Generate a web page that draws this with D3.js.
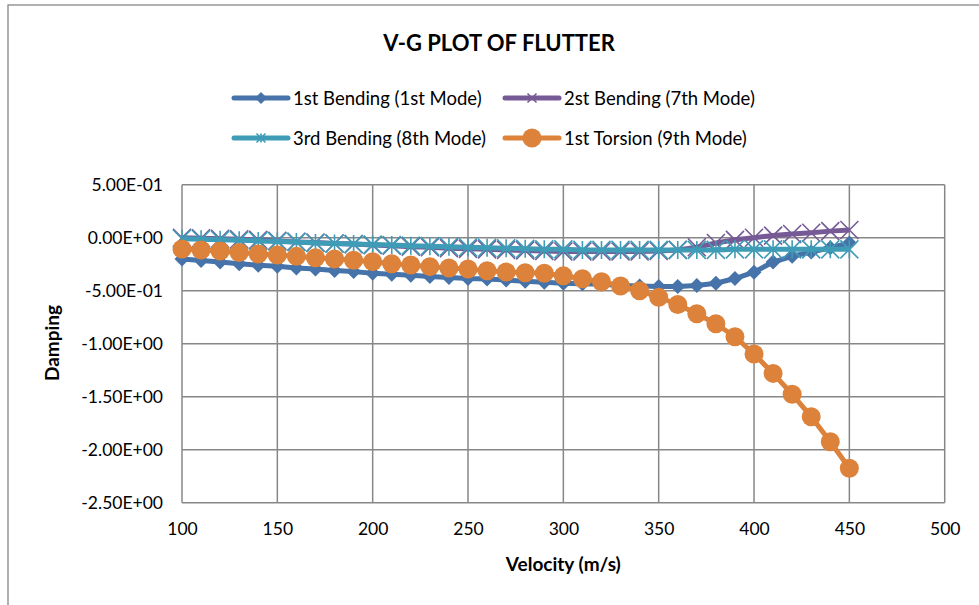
<!DOCTYPE html>
<html>
<head>
<meta charset="utf-8">
<script src="https://cdn.jsdelivr.net/npm/d3@7/dist/d3.min.js"></script>
<style>
  body { margin: 0; background: #fff; }
  svg { display: block; font-family: Lato, "Open Sans", sans-serif; }
</style>
</head>
<body>
<svg id="chart" width="979" height="605"></svg>
<script>
// Velocity stations (m/s)
const velocity = [100,110,120,130,140,150,160,170,180,190,200,210,220,230,240,250,260,270,
  280,290,300,310,320,330,340,350,360,370,380,390,400,410,420,430,440,450];

// Damping per mode
const bending1 = [-0.20,-0.215,-0.23,-0.245,-0.26,-0.27,-0.285,-0.295,-0.31,-0.32,-0.335,-0.345,
  -0.355,-0.365,-0.375,-0.385,-0.39,-0.40,-0.41,-0.42,-0.43,-0.435,-0.44,-0.45,-0.455,-0.46,
  -0.46,-0.45,-0.43,-0.385,-0.325,-0.23,-0.175,-0.135,-0.095,-0.05];
const bending2 = [0.0,-0.005,-0.01,-0.015,-0.02,-0.03,-0.04,-0.045,-0.055,-0.06,-0.07,-0.075,
  -0.085,-0.09,-0.10,-0.105,-0.11,-0.115,-0.12,-0.125,-0.13,-0.13,-0.13,-0.13,-0.13,-0.125,
  -0.115,-0.09,-0.05,-0.02,0.0,0.02,0.035,0.047,0.062,0.073];
const bending3 = [-0.01,-0.015,-0.02,-0.025,-0.03,-0.035,-0.04,-0.05,-0.055,-0.06,-0.065,-0.07,
  -0.075,-0.08,-0.085,-0.09,-0.095,-0.10,-0.105,-0.11,-0.11,-0.115,-0.115,-0.115,-0.115,-0.115,
  -0.115,-0.115,-0.115,-0.11,-0.11,-0.11,-0.11,-0.11,-0.11,-0.11];
const torsion1 = [-0.106,-0.116,-0.125,-0.14,-0.154,-0.163,-0.176,-0.189,-0.20,-0.213,-0.226,-0.245,
  -0.258,-0.273,-0.286,-0.295,-0.311,-0.324,-0.33,-0.336,-0.36,-0.387,-0.415,-0.456,-0.50,-0.562,
  -0.63,-0.717,-0.812,-0.934,-1.097,-1.28,-1.477,-1.689,-1.925,-2.175];

const seriesNames = ["1st Bending (1st Mode)","2st Bending (7th Mode)","3rd Bending (8th Mode)","1st Torsion (9th Mode)"];
const seriesColors = ["#4673A9","#765A96","#3F9CB6","#DC823B"];
const seriesMarkers = ["diamond","cross","asterisk","circle"];
const seriesValues = [bending1, bending2, bending3, torsion1];

const xTicks = [100,150,200,250,300,350,400,450,500];
const yTicks = [0.5,0,-0.5,-1,-1.5,-2,-2.5];

const svg = d3.select("#chart");
const gridColor = "#878787";

// outer chart frame
svg.append("rect").attr("x",8).attr("y",5).attr("width",1100).attr("height",800)
  .attr("fill","none").attr("stroke",gridColor).attr("stroke-width",1.3);

const x = d3.scaleLinear().domain([100,500]).range([182,944.7]);
const y = d3.scaleLinear().domain([-2.5,0.5]).range([502.7,184.7]);

// scientific labels, e.g. 5.00E-01
const sci = v => {
  const s = d3.format(".2e")(v).replace("\u2212", "-");
  const [m, e] = s.split("e");
  const sign = e[0] === "-" || e[0] === "\u2212" ? "-" : "+";
  const digits = e.replace(/[+\-\u2212]/, "").padStart(2, "0");
  return m + "E" + sign + digits;
};

// gridlines
svg.append("g").selectAll("line").data(xTicks).join("line")
  .attr("x1", d => x(d)).attr("x2", d => x(d))
  .attr("y1", y(0.5)).attr("y2", y(-2.5))
  .attr("stroke", gridColor).attr("stroke-width", 1.5);
svg.append("g").selectAll("line").data(yTicks).join("line")
  .attr("x1", x(100)).attr("x2", x(500))
  .attr("y1", d => y(d)).attr("y2", d => y(d))
  .attr("stroke", gridColor).attr("stroke-width", 1.5);

// axis tick labels via d3 axes (text only)
const xAxis = svg.append("g").attr("transform", `translate(0,${y(-2.5)})`)
  .call(d3.axisBottom(x).tickValues(xTicks).tickSize(0).tickPadding(20).tickFormat(d3.format("d")));
const yAxis = svg.append("g").attr("transform", `translate(${x(100)},0)`)
  .call(d3.axisLeft(y).tickValues(yTicks).tickSize(0).tickPadding(19).tickFormat(sci));
[xAxis, yAxis].forEach(a => {
  a.select(".domain").remove();
  a.selectAll("text").attr("font-family", "Lato, sans-serif").attr("font-size", 17.5).attr("fill", "#000");
});

// marker shapes
const markerPath = (type) => {
  if (type === "diamond") { const r = 7.5; return `M0,${-r}L${r},0L0,${r}L${-r},0Z`; }
  if (type === "cross") { const r = 9; return `M${-r},${-r}L${r},${r}M${-r},${r}L${r},${-r}`; }
  if (type === "asterisk") { const r = 9; return `M${-r},${-r}L${r},${r}M${-r},${r}L${r},${-r}M0,${-r}L0,${r}`; }
  return null;
};

const drawMarker = (g, type, color, cx, cy, scale = 1) => {
  if (type === "circle") {
    g.append("circle").attr("cx", cx).attr("cy", cy).attr("r", 9.5 * scale).attr("fill", color);
  } else if (type === "diamond") {
    g.append("path").attr("d", markerPath(type)).attr("transform", `translate(${cx},${cy}) scale(${scale})`).attr("fill", color);
  } else {
    g.append("path").attr("d", markerPath(type)).attr("transform", `translate(${cx},${cy}) scale(${scale})`)
      .attr("fill", "none").attr("stroke", color).attr("stroke-width", 1.6 / scale);
  }
};

const line = d3.line().x(d => x(d[0])).y(d => y(d[1]));

seriesValues.forEach((vals, i) => {
  const pts = velocity.map((v, j) => [v, vals[j]]);
  const g = svg.append("g");
  g.append("path").datum(pts).attr("d", line).attr("fill", "none")
    .attr("stroke", seriesColors[i]).attr("stroke-width", 5).attr("stroke-linejoin", "round");
  pts.forEach(p => drawMarker(g, seriesMarkers[i], seriesColors[i], x(p[0]), y(p[1])));
});

// title
svg.append("text").attr("x", 499).attr("y", 51).attr("text-anchor", "middle")
  .attr("font-size", 22).attr("font-weight", "bold").attr("fill", "#000").text("V-G PLOT OF FLUTTER");

// legend
const legendPos = [[234, 98], [505, 98], [234, 138], [505, 138]];
const legendScale = [0.8, 0.5, 0.5, 1];
seriesNames.forEach((name, i) => {
  const [lx, ly] = legendPos[i];
  const g = svg.append("g");
  g.append("line").attr("x1", lx).attr("x2", lx + 54).attr("y1", ly).attr("y2", ly)
    .attr("stroke", seriesColors[i]).attr("stroke-width", 5).attr("stroke-linecap", "round");
  drawMarker(g, seriesMarkers[i], seriesColors[i], lx + 27, ly, legendScale[i]);
  g.append("text").attr("x", lx + 59).attr("y", ly + 6.5).attr("font-size", 18.5).attr("fill", "#000").text(name);
});

// axis titles
svg.append("text").attr("x", x(300)).attr("y", 571).attr("text-anchor", "middle")
  .attr("font-size", 19).attr("font-weight", "bold").attr("fill", "#000").text("Velocity (m/s)");
svg.append("text").attr("transform", "translate(59,343) rotate(-90)").attr("text-anchor", "middle")
  .attr("font-size", 19).attr("font-weight", "bold").attr("fill", "#000").text("Damping");
</script>
</body>
</html>
